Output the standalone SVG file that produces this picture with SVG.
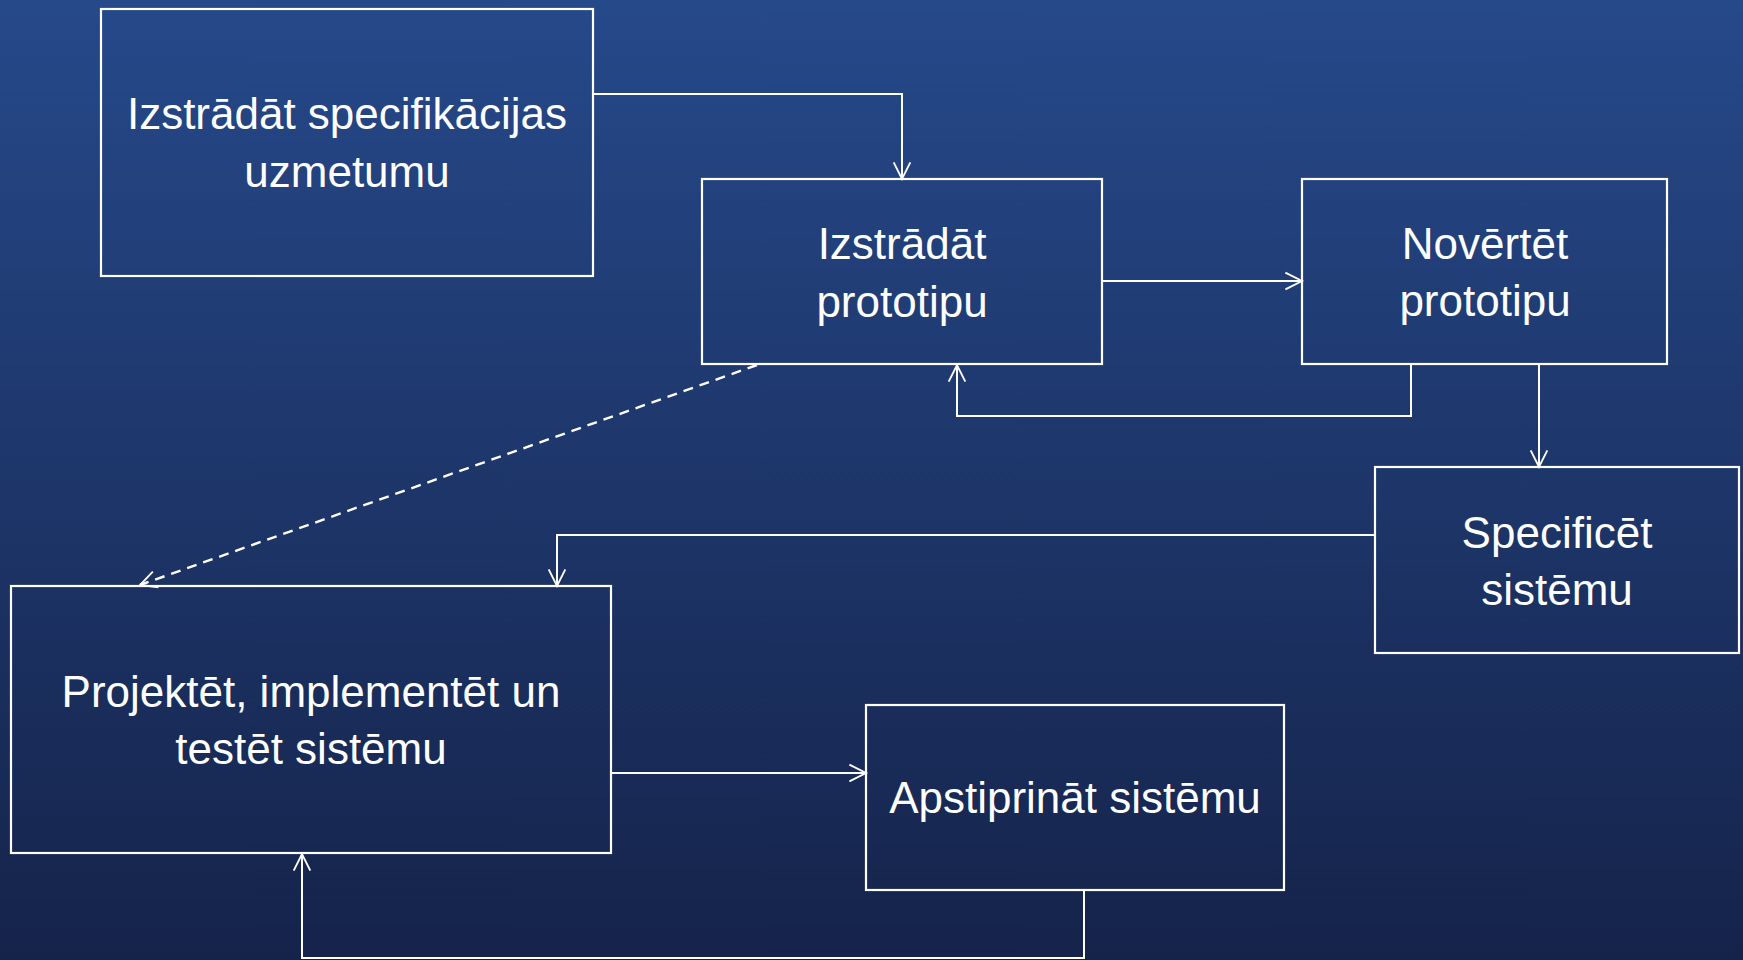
<svg xmlns="http://www.w3.org/2000/svg" width="1743" height="960" viewBox="0 0 1743 960">
<defs>
<linearGradient id="bg" x1="0" y1="0" x2="0" y2="1">
<stop offset="0" stop-color="#26498a"/>
<stop offset="1" stop-color="#15234a"/>
</linearGradient>
<marker id="arr" markerWidth="24" markerHeight="24" viewBox="-22 -12 26 24" refX="0" refY="0" orient="auto" markerUnits="userSpaceOnUse" overflow="visible">
<path d="M-18,-9 L0,0 L-18,9" fill="none" stroke="#fff" stroke-width="2"/>
</marker>
<style>
.box{fill:none;stroke:#fff;stroke-width:2.2}
.lbl{font-family:"Liberation Sans",Arial,sans-serif;font-size:44px;fill:#fff;text-anchor:middle}
.con{fill:none;stroke:#fff;stroke-width:2;marker-end:url(#arr)}
.dash{stroke-width:2.4;stroke-dasharray:10 7}
</style>
</defs>
<rect x="0" y="0" width="1743" height="960" fill="url(#bg)"/>
<g id="connectors">
<path class="con" d="M593,94 H902 V179"/>
<path class="con" d="M1102,281 H1302"/>
<path class="con" d="M1411,364 V416 H957 V365"/>
<path class="con" d="M1539,364 V467"/>
<path class="con" d="M1375,535 H557 V586"/>
<path class="con dash" d="M757,365 L140,585"/>
<path class="con" d="M611,773 H866"/>
<path class="con" d="M1084,890 V958 H302 V854"/>
</g>
<g id="n1">
<rect class="box" x="101" y="9" width="492" height="267"/>
<text class="lbl" x="347" y="129">Izstrādāt specifikācijas</text>
<text class="lbl" x="347" y="187">uzmetumu</text>
</g>
<g id="n2">
<rect class="box" x="702" y="179" width="400" height="185"/>
<text class="lbl" x="902" y="259">Izstrādāt</text>
<text class="lbl" x="902" y="317">prototipu</text>
</g>
<g id="n3">
<rect class="box" x="1302" y="179" width="365" height="185"/>
<text class="lbl" x="1485" y="259">Novērtēt</text>
<text class="lbl" x="1485" y="316">prototipu</text>
</g>
<g id="n4">
<rect class="box" x="1375" y="467" width="364" height="186"/>
<text class="lbl" x="1557" y="548">Specificēt</text>
<text class="lbl" x="1557" y="605">sistēmu</text>
</g>
<g id="n5">
<rect class="box" x="11" y="586" width="600" height="267"/>
<text class="lbl" x="311" y="707">Projektēt, implementēt un</text>
<text class="lbl" x="311" y="764">testēt sistēmu</text>
</g>
<g id="n6">
<rect class="box" x="866" y="705" width="418" height="185"/>
<text class="lbl" x="1075" y="813">Apstiprināt sistēmu</text>
</g>
</svg>
